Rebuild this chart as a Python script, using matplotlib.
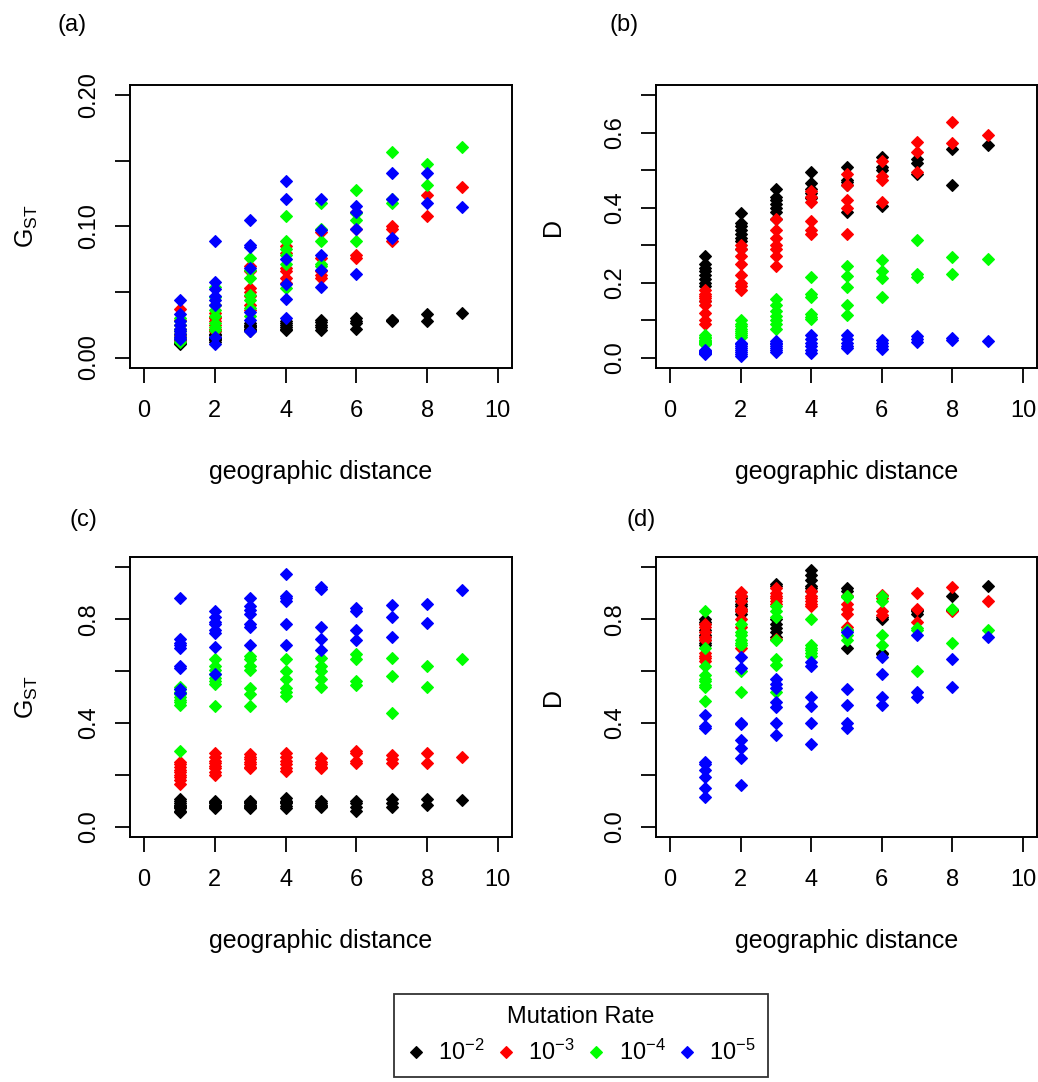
import numpy as np
import matplotlib.pyplot as plt
from matplotlib.lines import Line2D

plt.rcParams['font.family'] = ['Liberation Sans', 'DejaVu Sans']
plt.rcParams['mathtext.default'] = 'regular'

# values grouped by geographic distance 1..9 (10-d pairs at distance d)
# panel (a): G_ST, low migration
a_black = [[0.010, 0.011, 0.012, 0.013, 0.014, 0.015, 0.016, 0.017, 0.018],
           [0.012, 0.013, 0.014, 0.015, 0.016, 0.017, 0.018, 0.020],
           [0.020, 0.021, 0.022, 0.023, 0.024, 0.025, 0.026],
           [0.021, 0.022, 0.023, 0.025, 0.026, 0.028],
           [0.021, 0.023, 0.025, 0.027, 0.029],
           [0.022, 0.026, 0.028, 0.030],
           [0.028, 0.029, 0.029],
           [0.028, 0.033],
           [0.034]]
a_red = [[0.013, 0.015, 0.017, 0.018, 0.020, 0.022, 0.025, 0.029, 0.037],
         [0.020, 0.022, 0.025, 0.028, 0.030, 0.031, 0.034, 0.040],
         [0.036, 0.040, 0.047, 0.050, 0.053, 0.066, 0.070],
         [0.057, 0.061, 0.066, 0.068, 0.080, 0.085],
         [0.061, 0.063, 0.066, 0.076, 0.096],
         [0.076, 0.078, 0.098, 0.111],
         [0.089, 0.098, 0.100],
         [0.108, 0.124],
         [0.130]]
a_green = [[0.012, 0.014, 0.016, 0.018, 0.020, 0.022, 0.025, 0.028, 0.030],
           [0.021, 0.023, 0.026, 0.032, 0.036, 0.040, 0.046, 0.054],
           [0.032, 0.038, 0.044, 0.048, 0.061, 0.067, 0.076],
           [0.053, 0.071, 0.078, 0.083, 0.089, 0.108],
           [0.070, 0.071, 0.089, 0.098, 0.118],
           [0.089, 0.105, 0.110, 0.128],
           [0.118, 0.121, 0.157],
           [0.132, 0.148],
           [0.161]]
a_blue = [[0.014, 0.016, 0.018, 0.020, 0.022, 0.025, 0.028, 0.033, 0.044],
          [0.010, 0.016, 0.040, 0.044, 0.047, 0.052, 0.058, 0.089],
          [0.020, 0.029, 0.035, 0.068, 0.084, 0.086, 0.105],
          [0.030, 0.045, 0.056, 0.075, 0.121, 0.135],
          [0.054, 0.067, 0.078, 0.097, 0.121],
          [0.064, 0.098, 0.111, 0.116],
          [0.091, 0.121, 0.141],
          [0.118, 0.141],
          [0.115]]

# panel (b): D, low migration
b_black = [[0.15, 0.19, 0.20, 0.21, 0.22, 0.23, 0.24, 0.25, 0.27],
           [0.29, 0.31, 0.32, 0.33, 0.34, 0.35, 0.36, 0.385],
           [0.37, 0.39, 0.40, 0.41, 0.42, 0.43, 0.45],
           [0.425, 0.43, 0.44, 0.45, 0.465, 0.495],
           [0.39, 0.46, 0.47, 0.475, 0.51],
           [0.405, 0.50, 0.51, 0.535],
           [0.49, 0.52, 0.53],
           [0.462, 0.556],
           [0.567]]
b_red = [[0.09, 0.10, 0.12, 0.14, 0.15, 0.16, 0.165, 0.17, 0.18],
         [0.18, 0.19, 0.20, 0.22, 0.25, 0.27, 0.29, 0.30],
         [0.245, 0.27, 0.29, 0.30, 0.32, 0.34, 0.37],
         [0.33, 0.34, 0.365, 0.415, 0.43, 0.445],
         [0.33, 0.40, 0.42, 0.46, 0.49],
         [0.415, 0.475, 0.485, 0.525],
         [0.495, 0.548, 0.575],
         [0.574, 0.628],
         [0.594]]
b_green = [[0.035, 0.037, 0.040, 0.042, 0.045, 0.048, 0.052, 0.056, 0.060],
           [0.055, 0.060, 0.065, 0.070, 0.075, 0.085, 0.090, 0.100],
           [0.075, 0.090, 0.100, 0.110, 0.125, 0.140, 0.155],
           [0.103, 0.108, 0.115, 0.162, 0.170, 0.215],
           [0.114, 0.139, 0.188, 0.217, 0.244],
           [0.163, 0.212, 0.232, 0.260],
           [0.215, 0.222, 0.313],
           [0.223, 0.268],
           [0.263]]
b_blue = [[0.010, 0.011, 0.012, 0.013, 0.014, 0.015, 0.016, 0.018, 0.020],
          [0.005, 0.010, 0.015, 0.020, 0.025, 0.030, 0.035, 0.040],
          [0.015, 0.020, 0.025, 0.030, 0.035, 0.040, 0.045],
          [0.012, 0.020, 0.030, 0.040, 0.050, 0.060],
          [0.025, 0.030, 0.040, 0.050, 0.060],
          [0.022, 0.030, 0.040, 0.048],
          [0.042, 0.050, 0.058],
          [0.048, 0.052],
          [0.043]]

# panel (c): G_ST, high migration
c_black = [[0.055, 0.060, 0.070, 0.075, 0.080, 0.085, 0.090, 0.100, 0.105],
           [0.070, 0.075, 0.080, 0.080, 0.085, 0.090, 0.095, 0.100],
           [0.070, 0.075, 0.080, 0.085, 0.090, 0.095, 0.100],
           [0.070, 0.080, 0.090, 0.095, 0.100, 0.110],
           [0.075, 0.080, 0.085, 0.090, 0.100],
           [0.060, 0.075, 0.090, 0.100],
           [0.075, 0.090, 0.105],
           [0.083, 0.108],
           [0.1045]]
c_red = [[0.165, 0.180, 0.190, 0.200, 0.210, 0.220, 0.230, 0.240, 0.250],
         [0.200, 0.210, 0.225, 0.235, 0.245, 0.255, 0.270, 0.285],
         [0.225, 0.230, 0.240, 0.250, 0.260, 0.270, 0.280],
         [0.215, 0.225, 0.240, 0.255, 0.270, 0.285],
         [0.225, 0.230, 0.240, 0.250, 0.265],
         [0.245, 0.255, 0.285, 0.290],
         [0.245, 0.260, 0.275],
         [0.245, 0.284],
         [0.2675]]
c_green = [[0.290, 0.470, 0.480, 0.490, 0.500, 0.510, 0.520, 0.530, 0.540],
           [0.467, 0.550, 0.560, 0.575, 0.590, 0.605, 0.620, 0.645],
           [0.467, 0.510, 0.535, 0.605, 0.620, 0.645, 0.660],
           [0.505, 0.520, 0.535, 0.570, 0.600, 0.645],
           [0.540, 0.570, 0.600, 0.620, 0.650],
           [0.545, 0.560, 0.645, 0.665],
           [0.440, 0.582, 0.652],
           [0.538, 0.618],
           [0.646]]
c_blue = [[0.515, 0.530, 0.610, 0.620, 0.690, 0.700, 0.710, 0.725, 0.880],
          [0.590, 0.694, 0.745, 0.760, 0.780, 0.790, 0.810, 0.830],
          [0.700, 0.770, 0.780, 0.820, 0.835, 0.850, 0.880],
          [0.700, 0.780, 0.870, 0.880, 0.890, 0.975],
          [0.680, 0.725, 0.770, 0.915, 0.925],
          [0.720, 0.760, 0.830, 0.845],
          [0.733, 0.809, 0.853],
          [0.787, 0.860],
          [0.911]]

# panel (d): D, high migration
d_black = [[0.70, 0.71, 0.72, 0.73, 0.74, 0.76, 0.78, 0.79, 0.80],
           [0.82, 0.83, 0.84, 0.85, 0.86, 0.87, 0.88, 0.89],
           [0.73, 0.75, 0.765, 0.78, 0.80, 0.93, 0.935],
           [0.91, 0.92, 0.93, 0.95, 0.97, 0.99],
           [0.69, 0.76, 0.89, 0.91, 0.92],
           [0.665, 0.67, 0.80, 0.81],
           [0.82, 0.83, 0.835],
           [0.835, 0.89],
           [0.93]]
d_red = [[0.64, 0.65, 0.66, 0.67, 0.72, 0.73, 0.75, 0.77, 0.78],
         [0.69, 0.77, 0.80, 0.83, 0.84, 0.87, 0.89, 0.905],
         [0.725, 0.86, 0.87, 0.88, 0.89, 0.90, 0.92],
         [0.85, 0.86, 0.87, 0.88, 0.89, 0.91],
         [0.77, 0.82, 0.84, 0.86, 0.89],
         [0.815, 0.83, 0.88, 0.895],
         [0.79, 0.84, 0.90],
         [0.83, 0.925],
         [0.872]]
d_green = [[0.485, 0.54, 0.545, 0.56, 0.57, 0.585, 0.62, 0.69, 0.83],
           [0.52, 0.60, 0.70, 0.71, 0.72, 0.74, 0.75, 0.78],
           [0.52, 0.625, 0.645, 0.72, 0.81, 0.83, 0.85],
           [0.66, 0.67, 0.68, 0.69, 0.70, 0.80],
           [0.72, 0.74, 0.76, 0.885, 0.89],
           [0.70, 0.74, 0.87, 0.89],
           [0.60, 0.76, 0.765],
           [0.71, 0.84],
           [0.758]]
d_blue = [[0.115, 0.15, 0.19, 0.22, 0.24, 0.25, 0.38, 0.39, 0.43],
          [0.16, 0.265, 0.305, 0.335, 0.395, 0.40, 0.61, 0.655],
          [0.355, 0.40, 0.46, 0.48, 0.535, 0.55, 0.57],
          [0.32, 0.40, 0.465, 0.50, 0.62, 0.635],
          [0.38, 0.40, 0.47, 0.53, 0.75],
          [0.47, 0.50, 0.59, 0.655],
          [0.50, 0.52, 0.74],
          [0.54, 0.645],
          [0.732]]

rate_labels = ['$10^{-2}$', '$10^{-3}$', '$10^{-4}$', '$10^{-5}$']
colors = ['black', 'red', '#00ff00', 'blue']

panels = [
    ('(a)', r'G$_{ST}$', [a_black, a_red, a_green, a_blue], 0.2, 0.05, 0.10, '%.2f'),
    ('(b)', 'D', [b_black, b_red, b_green, b_blue], 0.7, 0.1, 0.2, '%.1f'),
    ('(c)', r'G$_{ST}$', [c_black, c_red, c_green, c_blue], 1.0, 0.2, 0.4, '%.1f'),
    ('(d)', 'D', [d_black, d_red, d_green, d_blue], 1.0, 0.2, 0.4, '%.1f'),
]

W, H = 1038, 1082
fig = plt.figure(figsize=(W / 100, H / 100), dpi=100)

# axes boxes in pixels: left, top, width, height
boxes = [(130, 85, 382, 283), (656, 85, 381, 283),
         (130, 557, 382, 280), (656, 557, 381, 280)]
tag_pos = [(72, 25), (624, 25), (83, 520), (641, 520)]

FS = 17
ms = 6.2
mew = 0.8
for (tag, ylab, series, ymax, ystep, lstep, fmt), (l, t, w, h), (tx, ty) in zip(panels, boxes, tag_pos):
    ax = fig.add_axes([l / W, 1 - (t + h) / H, w / W, h / H])
    for vals, col in zip(series, colors):
        xs, ys = [], []
        for d, group in enumerate(vals, start=1):
            xs += [d] * len(group)
            ys += group
        ax.plot(xs, ys, 'D', color=col, ms=ms, mew=mew, mec=col, linestyle='none')
    ax.set_xlim(-0.4, 10.4)
    ax.set_ylim(-0.04 * ymax, 1.04 * ymax)
    ax.set_xticks(np.arange(0, 11, 2))
    yt = np.round(np.arange(0, ymax + 1e-9, ystep), 3)
    ax.set_yticks(yt)
    ax.set_yticklabels([fmt % v if abs(v / lstep - round(v / lstep)) < 1e-6 else '' for v in yt])
    for sp in ax.spines.values():
        sp.set_linewidth(1.4)
    ax.tick_params(axis='both', direction='out', length=10.5, width=1.3,
                   labelsize=FS)
    ax.tick_params(axis='x', pad=12.5)
    ax.tick_params(axis='y', pad=11, labelrotation=90)
    for lab in ax.get_yticklabels():
        lab.set_va('center')
    ax.text(0.5, -0.368 * 283 / h, 'geographic distance', transform=ax.transAxes,
            ha='center', va='center', fontsize=18)
    ax.text(-0.27, 0.5, ylab, transform=ax.transAxes, rotation=90,
            ha='center', va='center', fontsize=18)
    fig.text(tx / W, 1 - ty / H, tag, ha='center', va='center', fontsize=17)

handles = [Line2D([], [], marker='D', color=c, mec=c, ms=ms, mew=mew, linestyle='none')
           for c in colors]
leg = fig.legend(handles, rate_labels, loc='upper center', ncol=4,
                 bbox_to_anchor=(581 / W, 1 - 994 / H), title='Mutation Rate',
                 fontsize=17, title_fontsize=17, frameon=True, fancybox=False,
                 edgecolor='black', handlelength=0.8, handletextpad=0.55,
                 columnspacing=0.5, borderpad=0.5, borderaxespad=0)
leg.get_frame().set_linewidth(1.3)

plt.savefig('out.png', dpi=100)
